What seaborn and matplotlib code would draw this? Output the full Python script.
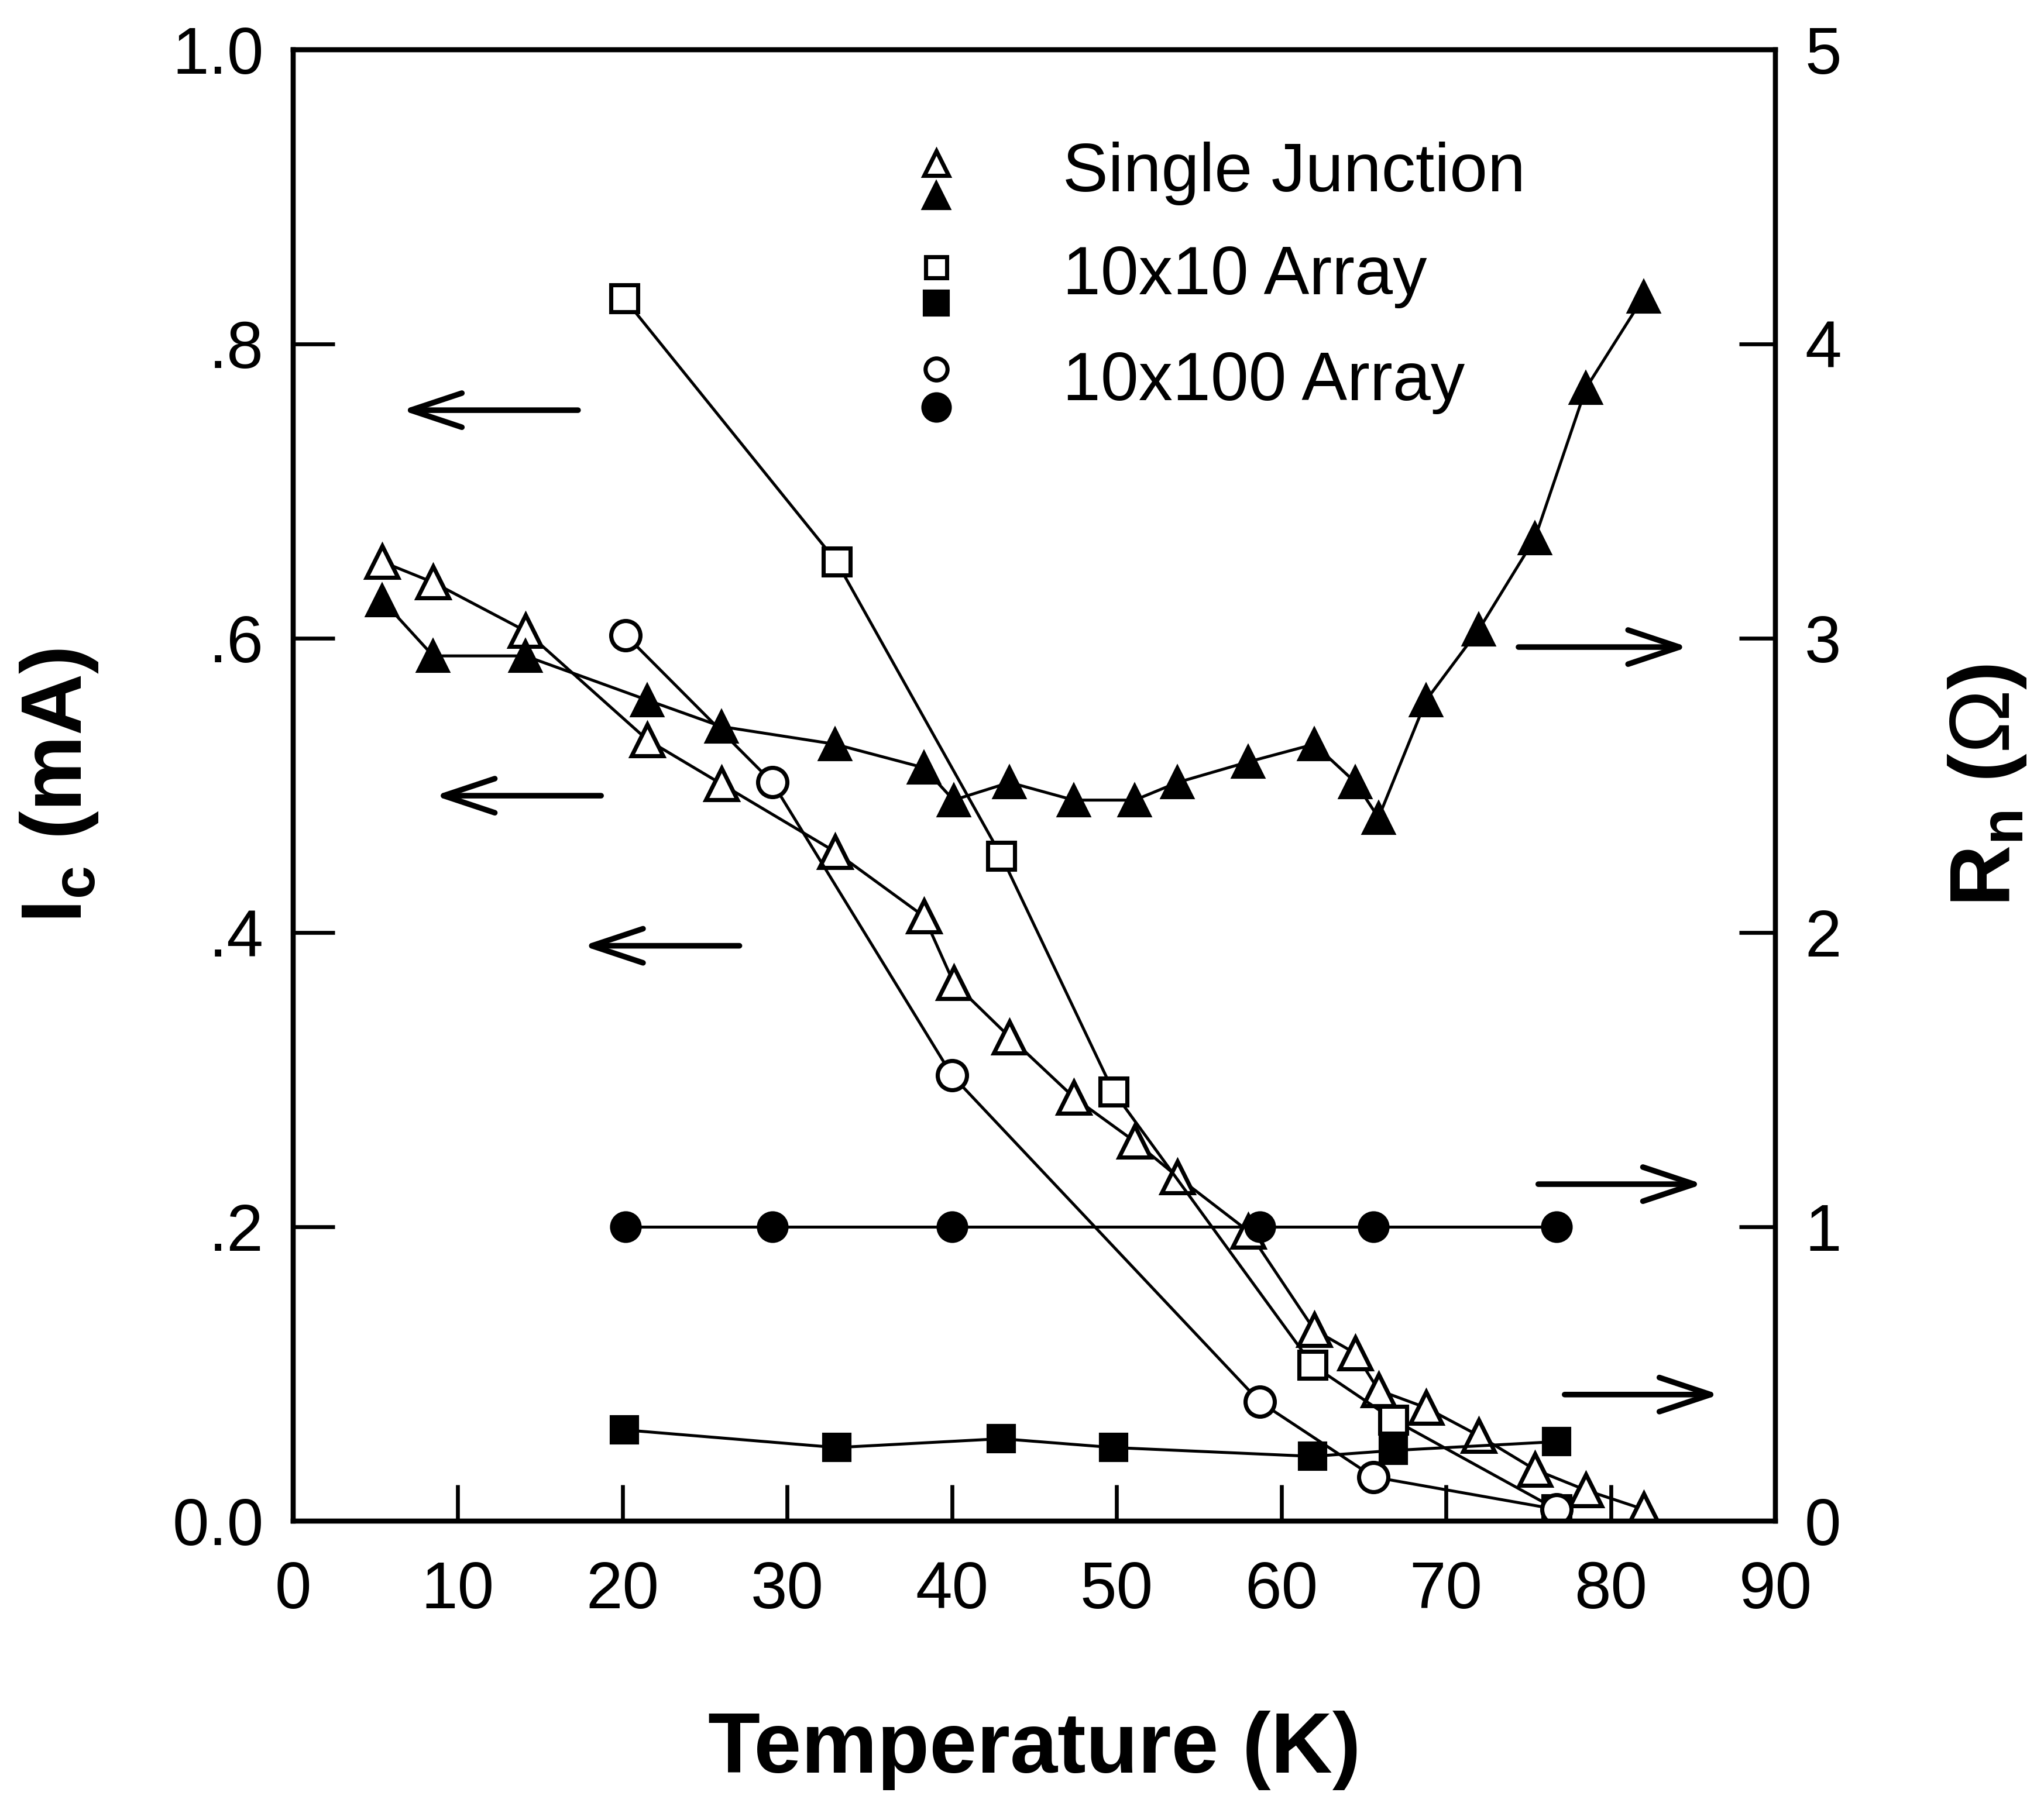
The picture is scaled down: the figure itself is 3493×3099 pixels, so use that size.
import numpy as np
import pandas as pd
import matplotlib
matplotlib.use("Agg")
import matplotlib.pyplot as plt
import seaborn as sns

# ---------------- data ----------------
# Single junction: Ic (open triangles, left axis) and Rn (filled triangles, right axis)
sj_T = [5.4, 8.5, 14.1, 21.5, 26.0, 32.9, 38.3, 40.1, 43.5, 47.4, 51.1, 53.7,
        58.0, 62.0, 64.5, 65.9, 68.8, 72.0, 75.4, 78.5, 82.0]
sj_Ic = [0.652, 0.638, 0.605, 0.531, 0.501, 0.455, 0.411, 0.366, 0.329, 0.288,
         0.258, 0.234, 0.197, 0.130, 0.114, 0.089, 0.077, 0.058, 0.035, 0.021, 0.008]
sj_Rn = [3.13, 2.94, 2.94, 2.79, 2.70, 2.64, 2.56, 2.45, 2.51, 2.45, 2.45, 2.51,
         2.58, 2.64, 2.51, 2.39, 2.79, 3.03, 3.34, 3.85, 4.16]

# 10x10 array: Ic (open squares) and Rn (filled squares)
a10_T = [20.1, 33.0, 43.0, 49.8, 61.9, 66.8, 76.7]
a10_Ic = [0.831, 0.652, 0.452, 0.292, 0.106, 0.069, 0.008]
a10_Rn = [0.31, 0.25, 0.28, 0.25, 0.22, 0.24, 0.27]

# 10x100 array: Ic (open circles) and Rn (filled circles)
a100_T = [20.2, 29.1, 40.0, 58.7, 65.6, 76.7]
a100_Ic = [0.602, 0.502, 0.303, 0.081, 0.030, 0.008]
a100_Rn = [1.00, 1.00, 1.00, 1.00, 1.00, 1.00]

legend_labels = ["Single Junction", "10x10 Array", "10x100 Array"]
left_ticks = [0.0, 0.2, 0.4, 0.6, 0.8, 1.0]
left_ticklabels = ["0.0", ".2", ".4", ".6", ".8", "1.0"]
right_ticks = [0, 1, 2, 3, 4, 5]
x_ticks = [0, 10, 20, 30, 40, 50, 60, 70, 80, 90]

# arrows (tail -> head), data coords of the left (Ic) axis
arrows_left = [((17.3, 0.755), (6.6, 0.755)),
               ((18.7, 0.493), (8.6, 0.493)),
               ((27.1, 0.391), (17.6, 0.391))]
arrows_right = [((74.4, 0.594), (84.7, 0.594)),
                ((75.6, 0.229), (85.6, 0.229)),
                ((77.2, 0.086), (86.6, 0.086))]

# ---------------- style ----------------
sns.set_style("ticks")
plt.rcParams["font.family"] = ["Liberation Sans", "DejaVu Sans"]
plt.rcParams["mathtext.fontset"] = "custom"
plt.rcParams["mathtext.bf"] = "Liberation Sans:bold"
plt.rcParams["mathtext.rm"] = "Liberation Sans"
plt.rcParams["mathtext.default"] = "bf"
for key in ["text.color", "axes.labelcolor", "xtick.color", "ytick.color",
            "axes.edgecolor", "xtick.labelcolor", "ytick.labelcolor"]:
    plt.rcParams[key] = "black"

fig = plt.figure(figsize=(3493 / 300, 3099 / 300), dpi=300)
ax = fig.add_axes([0.1434, 0.161, 0.8686 - 0.1434, 0.9726 - 0.161])
ax2 = ax.twinx()

lw = 1.2
mew = 1.7
common = dict(color="black", linewidth=lw, sort=False, estimator=None, legend=False)

# Ic curves (left axis)
sns.lineplot(x=sj_T, y=sj_Ic, ax=ax, marker="^", markersize=13,
             markerfacecolor="white", markeredgecolor="black", markeredgewidth=mew, **common)
sns.lineplot(x=a10_T, y=a10_Ic, ax=ax, marker="s", markersize=11,
             markerfacecolor="white", markeredgecolor="black", markeredgewidth=mew, **common)
sns.lineplot(x=a100_T, y=a100_Ic, ax=ax, marker="o", markersize=12,
             markerfacecolor="white", markeredgecolor="black", markeredgewidth=mew, **common)

# Rn curves (right axis)
sns.lineplot(x=sj_T, y=sj_Rn, ax=ax2, marker="^", markersize=13,
             markerfacecolor="black", markeredgecolor="black", markeredgewidth=1, **common)
sns.lineplot(x=a10_T, y=a10_Rn, ax=ax2, marker="s", markersize=11,
             markerfacecolor="black", markeredgecolor="black", markeredgewidth=1, **common)
sns.lineplot(x=a100_T, y=a100_Rn, ax=ax2, marker="o", markersize=12,
             markerfacecolor="black", markeredgecolor="black", markeredgewidth=1, **common)

# axes limits / ticks
ax.set_xlim(0, 90)
ax.set_ylim(0, 1.0)
ax2.set_ylim(0, 5)
ax.set_xticks(x_ticks)
ax.set_yticks(left_ticks)
ax.set_yticklabels(left_ticklabels)
ax2.set_yticks(right_ticks)
ax2.set_yticklabels([str(t) for t in right_ticks])

tick_fs = 27
ax.tick_params(axis="x", direction="in", length=15, width=1.6, labelsize=tick_fs, pad=16,
               top=False, bottom=True, colors="black")
ax.tick_params(axis="y", direction="in", length=17, width=1.6, labelsize=tick_fs, pad=12,
               left=True, right=False, colors="black")
ax2.tick_params(axis="y", direction="in", length=15, width=1.6, labelsize=tick_fs, pad=12,
                right=True, left=False, colors="black")

for a in (ax, ax2):
    for s in a.spines.values():
        s.set_visible(True)
        s.set_linewidth(2.0)
        s.set_color("black")

# axis labels
ax.set_xlabel("Temperature (K)", fontsize=35, fontweight="bold", color="black")
ax.xaxis.set_label_coords(0.5, -0.156)
ax.xaxis.label.set_va("center")
ax.set_ylabel(r"I$_{c}$ (mA)", fontsize=35, fontweight="bold", color="black")
ax.yaxis.set_label_coords(-0.158, 0.5)
ax.yaxis.label.set_va("center")
ax2.set_ylabel(r"R$_{n}$ ($\mathrm{\Omega}$)", fontsize=35, fontweight="bold",
               rotation=90, color="black")
ax2.yaxis.set_label_coords(1.143, 0.5)
ax2.yaxis.label.set_va("center")

# arrows
for tail, head in arrows_left + arrows_right:
    ax.annotate("", xy=head, xytext=tail,
                arrowprops=dict(arrowstyle="->,head_length=2.1,head_width=0.7",
                                lw=2.3, color="black", mutation_scale=10,
                                shrinkA=0, shrinkB=0))

# legend (drawn manually, two stacked markers per entry)
lx = 0.434
tx = 0.519
leg_rows = [(0.923, 0.901, "^", 10, 11, 0.916),
            (0.852, 0.828, "s", 8.5, 10, 0.846),
            (0.783, 0.757, "o", 9, 11.5, 0.774)]
for (yo, yf, m, so, sf, yt), lab in zip(leg_rows, legend_labels):
    ax.plot([lx], [yo], marker=m, markersize=so, markerfacecolor="white",
            markeredgecolor="black", markeredgewidth=mew, transform=ax.transAxes,
            linestyle="none", clip_on=False)
    ax.plot([lx], [yf], marker=m, markersize=sf, markerfacecolor="black",
            markeredgecolor="black", transform=ax.transAxes,
            linestyle="none", clip_on=False)
    ax.text(tx, yt, lab, transform=ax.transAxes, fontsize=28, va="center", ha="left",
            color="black")

fig.savefig("out.png", dpi=300)
